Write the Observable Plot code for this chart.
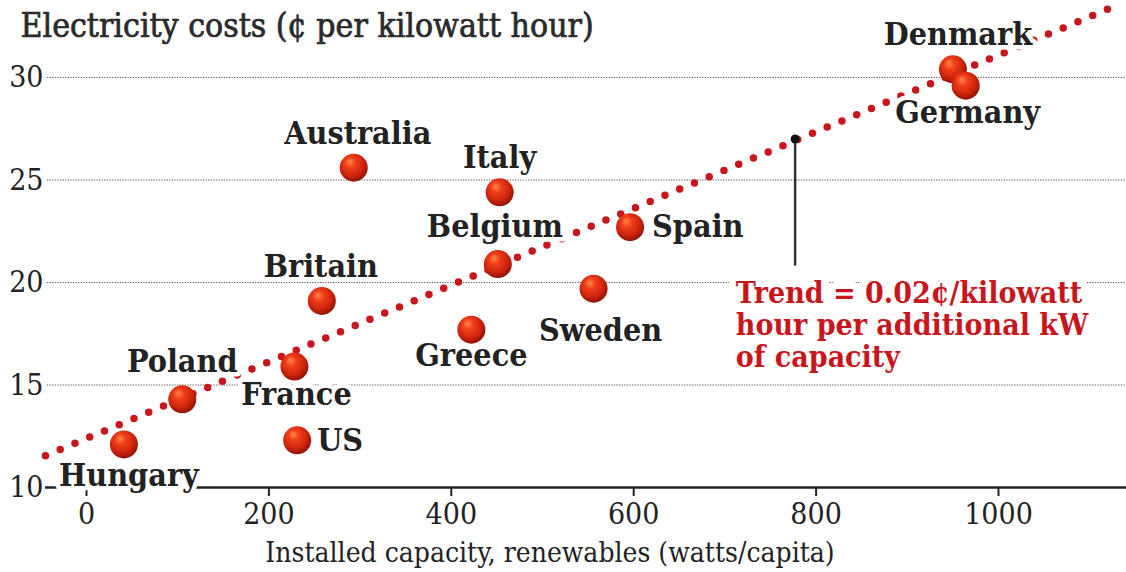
<!DOCTYPE html>
<html><head><meta charset="utf-8">
<script src="https://cdn.jsdelivr.net/npm/d3@7"></script>
<script src="https://cdn.jsdelivr.net/npm/@observablehq/plot@0.6"></script>
<style>body{margin:0;background:#fff}</style>
</head><body><div id="chart"></div>
<script>
// ---- data ----
const countries = ["Denmark","Germany","Australia","Italy","Belgium","Spain","Britain","Sweden","Greece","Poland","France","US","Hungary"];
const capacity  = [950, 964, 293, 453, 451, 596, 258, 556, 422, 105, 228, 231, 41];
const cost      = [30.4, 29.6, 25.6, 24.4, 20.9, 22.7, 19.1, 19.7, 17.7, 14.3, 15.9, 12.3, 12.1];
const trendX = [-45, 1126];
const trendY = [11.55, 33.45];
const xTicks = [0, 200, 400, 600, 800, 1000];
const yTicks = [10, 15, 20, 25, 30];
const gridValues = [15, 20, 25, 30];
const titleText = "Electricity costs (¢ per kilowatt hour)";
const xLabelText = "Installed capacity, renewables (watts/capita)";
const trendNote = ["Trend = 0.02¢/kilowatt", "hour per additional kW", "of capacity"];
const annotationX = 777;
const annotationY = [20.8, 27.0];
const noteAt = {x: 712, y: 17.95};

// ---- label layout (pixel offsets from each point) ----
const labelDx     = [5, 2, 4, 0, -3, 22, -1, 7, 0, 0, 2, 20, 5];
const labelDy     = [-35, 27, -34, -35, -37, 0, -34, 42, 26, -38, 28, 0, 31];
const labelAnchor = ["middle","middle","middle","middle","middle","start","middle","middle","middle","middle","middle","start","middle"];

const points = countries.map((c, i) => ({country: c, capacity: capacity[i], cost: cost[i], dx: labelDx[i], dy: labelDy[i], anchor: labelAnchor[i]}));
const trend = trendX.map((x, i) => ({x, y: trendY[i]}));

const serif = "'DejaVu Serif Condensed', 'DejaVu Serif', serif";
const ink = "#222";
const red = "#c8161d";

const plot = Plot.plot({
  width: 1126, height: 572,
  marginLeft: 65, marginRight: 0, marginTop: 0, marginBottom: 85,
  x: {domain: [-23.03, 1140.35]},
  y: {domain: [10, 33.756]},
  style: {fontFamily: serif, background: "white", color: ink, overflow: "visible"},
  marks: [
    Plot.ruleY(gridValues, {x1: -42.8, x2: 1140.35, stroke: "#5a5a5a", strokeWidth: 1.2, strokeDasharray: "1.3,1.3"}),
    Plot.ruleY([10], {x1: -45, x2: 1140.35, stroke: ink, strokeWidth: 2.5}),
    Plot.axisX({ticks: xTicks, tickSize: 9, tickPadding: 6, fontSize: 30, label: null, strokeWidth: 2, tickFormat: d => String(d)}),
    Plot.axisY({ticks: yTicks, tickSize: 0, tickPadding: 22, fontSize: 30, label: null, tickFormat: d => String(d)}),
    Plot.line(trend, {x: "x", y: "y", stroke: red, strokeWidth: 7.5, strokeDasharray: "0 16", strokeLinecap: "round"}),
    Plot.ruleX([annotationX], {y1: annotationY[0], y2: annotationY[1], stroke: "#333", strokeWidth: 2.5}),
    Plot.dot([annotationX], {x: d => d, y: annotationY[1], r: 4.5, fill: "#111"}),
    ...points.map(p => Plot.text([p], {
      x: "capacity", y: "cost", text: "country",
      dx: p.dx, dy: p.dy, textAnchor: p.anchor,
      fontSize: 32, fontWeight: "bold", fill: ink,
      stroke: "white", strokeWidth: 9
    })),
    Plot.dot(points, {x: "capacity", y: "cost", r: 14, fill: "url(#ball)"}),
    Plot.text([trendNote.join("\n")], {
      x: noteAt.x, y: noteAt.y, textAnchor: "start", lineAnchor: "middle",
      fontSize: 30, fontWeight: "bold", fill: red, lineHeight: 1.07,
      stroke: "white", strokeWidth: 14
    }),
    Plot.text([titleText], {frameAnchor: "top-left", dx: -45, dy: 26, textAnchor: "start", lineAnchor: "middle", fontSize: 33.5, fill: "#2a2a2a", stroke: "#2a2a2a", strokeWidth: 0.7}),
    Plot.text([xLabelText], {frameAnchor: "bottom", dx: -46, dy: 66, lineAnchor: "middle", fontSize: 28, fill: ink})
  ]
});

const defs = d3.select(plot).insert("defs", ":first-child");
const grad = defs.append("radialGradient").attr("id", "ball")
  .attr("cx", "45%").attr("cy", "40%").attr("r", "60%").attr("fx", "35%").attr("fy", "28%");
[[0, "#ff8a4a"], [0.3, "#f2411a"], [0.75, "#c9220c"], [1, "#8c1206"]].forEach(([o, c]) =>
  grad.append("stop").attr("offset", o).attr("stop-color", c));

document.getElementById("chart").appendChild(plot);
</script>
</body></html>
